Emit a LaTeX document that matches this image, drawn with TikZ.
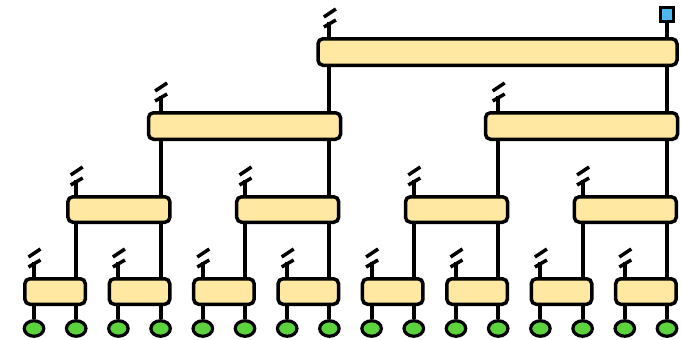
\documentclass[tikz,border=0pt]{standalone}
\usetikzlibrary{shapes.geometric,backgrounds,calc}
\definecolor{boxfill}{HTML}{FFE8A1}
\definecolor{leafgreen}{HTML}{5CD33C}
\definecolor{topblue}{HTML}{4DB8F0}
\newcommand\legtick[2]{%
  \draw[wire] (#1.north -| #2) -- ++(0,-15);
  \draw[slash] ($(#1.north -| #2)+(-5.5,-10)$) -- ++(12,-7);
  \draw[slash] ($(#1.north -| #2)+(-5.5,-20)$) -- ++(12,-8);
}
\begin{document}
\begin{tikzpicture}[x=1pt,y=-1pt,
  tensor/.style={draw,line width=3.5pt,fill=boxfill,rounded corners=5pt,inner sep=0pt,minimum height=25.5pt},
  leaf/.style={ellipse,draw,line width=3.2pt,fill=leafgreen,minimum width=19.5pt,minimum height=15.5pt,inner sep=0pt},
  topsq/.style={draw,line width=3.2pt,fill=topblue,minimum size=13.5pt,inner sep=0pt},
  wire/.style={line width=4pt},
  slash/.style={line width=3.5pt}]
\useasboundingbox (0,0) rectangle (681,340);
% leaves
\foreach \i in {0,...,15} \node[leaf] (g\i) at ({34+42.2*\i},328.5) {};
% level 1
\foreach \k in {0,...,7} \node[tensor,minimum width=60.5pt] (b\k) at ({55.1+84.4*\k},291.5) {};
% level 2
\foreach \j in {0,...,3} \node[tensor,minimum width=102pt] (c\j) at ({118.9+168.8*\j},209.5) {};
% level 3
\foreach \j in {0,1} \node[tensor,minimum width=192pt,minimum height=26.5pt] (d\j) at ({244.5+337*\j},126) {};
% level 4
\node[tensor,minimum width=359pt,minimum height=26.5pt] (e) at (497.5,52) {};
\node[topsq] (q) at (g15 |- 0,14.5) {};
\begin{scope}[on background layer]
  \foreach \k in {0,...,7} {
    \pgfmathtruncatemacro\a{2*\k}
    \pgfmathtruncatemacro\b{2*\k+1}
    \draw[wire] (b\k.south -| g\a) -- (g\a);
    \draw[wire] (b\k.south -| g\b) -- (g\b);
    \legtick{b\k}{g\a}
  }
  \foreach \j in {0,...,3} {
    \pgfmathtruncatemacro\p{4*\j+1}
    \pgfmathtruncatemacro\r{4*\j+3}
    \pgfmathtruncatemacro\m{2*\j}
    \pgfmathtruncatemacro\n{2*\j+1}
    \draw[wire] (c\j.south -| g\p) -- (b\m.north -| g\p);
    \draw[wire] (c\j.south -| g\r) -- (b\n.north -| g\r);
    \legtick{c\j}{g\p}
  }
  \foreach \j in {0,1} {
    \pgfmathtruncatemacro\p{8*\j+3}
    \pgfmathtruncatemacro\r{8*\j+7}
    \pgfmathtruncatemacro\m{2*\j}
    \pgfmathtruncatemacro\n{2*\j+1}
    \draw[wire] (d\j.south -| g\p) -- (c\m.north -| g\p);
    \draw[wire] (d\j.south -| g\r) -- (c\n.north -| g\r);
    \legtick{d\j}{g\p}
  }
  \draw[wire] (e.south -| g7) -- (d0.north -| g7);
  \draw[wire] (e.south -| g15) -- (d1.north -| g15);
  \legtick{e}{g7}
  \draw[wire] (q) -- (e.north -| q);
\end{scope}
\end{tikzpicture}
\end{document}
